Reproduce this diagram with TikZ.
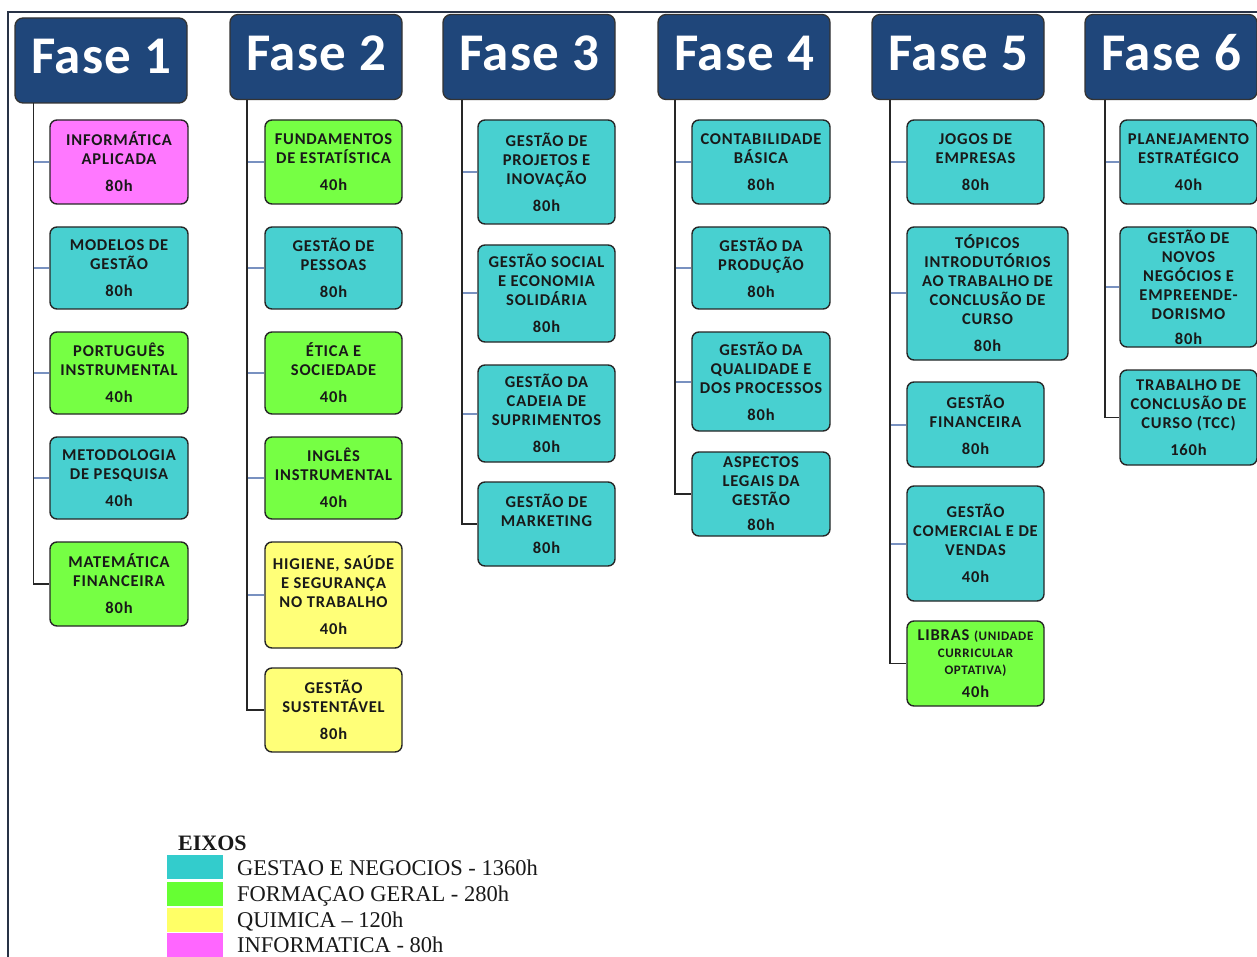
\documentclass[tikz,border=0pt]{standalone}
\usepackage{fontspec}
\setmainfont{Liberation Serif}
\newfontfamily\calfont[LetterSpace=5.0]{Carlito}
\newfontfamily\hdrfamily[LetterSpace=2.0]{Carlito}
\usetikzlibrary{calc}
\definecolor{cyanbox}{RGB}{72,208,208}
\definecolor{greenbox}{RGB}{118,255,68}
\definecolor{yellowbox}{RGB}{255,255,120}
\definecolor{magbox}{RGB}{255,120,255}
\definecolor{hdrblue}{RGB}{31,70,122}
\definecolor{tickblue}{RGB}{120,145,192}
\definecolor{framec}{RGB}{40,50,70}
\definecolor{legcyan}{RGB}{51,204,204}
\definecolor{leggreen}{RGB}{102,255,51}
\definecolor{legyellow}{RGB}{255,255,102}
\definecolor{legmag}{RGB}{255,102,255}
\newcommand{\boxfnt}{\calfont\bfseries\fontsize{16.5}{19}\selectfont}
\newcommand{\hdrfnt}{\hdrfamily\bfseries\fontsize{53}{56}\selectfont}
\newcommand{\tinyfnt}{\calfont\bfseries\fontsize{13}{17}\selectfont}
\tikzset{
  box/.style={draw=black!85, line width=1.4pt, rounded corners=7pt, minimum width=137pt,
    inner sep=0pt, align=center, font=\boxfnt, text=black!90},
  ga/.style={box, fill=cyanbox},
  fg/.style={box, fill=greenbox},
  qu/.style={box, fill=yellowbox},
  inf/.style={box, fill=magbox},
  hdr/.style={draw=black!80, fill=hdrblue, rounded corners=8pt, minimum width=172pt,
    minimum height=85pt, inner sep=0pt, text=white, font=\hdrfnt, line width=1.3pt,
    text height=34pt, text depth=7pt},
  spine/.style={draw=black!85, line width=1.5pt},
  tickline/.style={draw=tickblue, line width=2pt},
  frameline/.style={draw=framec, line width=1.4pt},
  swatch/.style={minimum width=56pt, minimum height=24pt, inner sep=0pt, anchor=north west},
  legtext/.style={anchor=base west, inner sep=0pt, font=\fontsize{22.5}{24}\selectfont, text=black!90}
}
\begin{document}
\begin{tikzpicture}[x=1pt,y=-1pt]
\useasboundingbox (0,0) rectangle (1257,957);
\fill[white] (0,0) rectangle (1257,957);
\draw[frameline] (8,960) -- (8,12) -- (1260,12);

% headers
\node[hdr] (h1) at (101,60.5) {Fase 1};
\node[hdr] (h2) at (316,57) {Fase 2};
\node[hdr] (h3) at (529,57) {Fase 3};
\node[hdr] (h4) at (744,57) {Fase 4};
\node[hdr] (h5) at (958,57) {Fase 5};
\node[hdr] (h6) at (1171,57) {Fase 6};

% spine tops
\coordinate (t1) at (33.5,103);
\coordinate (t2) at (247,100);
\coordinate (t3) at (462,100);
\coordinate (t4) at (675,100);
\coordinate (t5) at (890,100);
\coordinate (t6) at (1105,100);

% Fase 1
\node[inf, minimum width=138pt, minimum height=84pt] (a1) at (119,162) {INFORMÁTICA\\APLICADA\\[8pt]80h};
\node[ga, minimum width=138pt, minimum height=82pt] (a2) at (119,268) {MODELOS DE\\GESTÃO\\[8pt]80h};
\node[fg, minimum width=138pt, minimum height=82pt] (a3) at (119,373) {PORTUGUÊS\\INSTRUMENTAL\\[8pt]40h};
\node[ga, minimum width=138pt, minimum height=82pt] (a4) at (119,478) {METODOLOGIA\\DE PESQUISA\\[8pt]40h};
\node[fg, minimum width=138pt, minimum height=84pt] (a5) at (119,584) {MATEMÁTICA\\FINANCEIRA\\[8pt]80h};

% Fase 2
\node[fg, minimum height=84pt] (b1) at (333.5,162) {FUNDAMENTOS\\DE ESTATÍSTICA\\[8pt]40h};
\node[ga, minimum height=82pt] (b2) at (333.5,268) {GESTÃO DE\\PESSOAS\\[8pt]80h};
\node[fg, minimum height=82pt] (b3) at (333.5,373) {ÉTICA E\\SOCIEDADE\\[8pt]40h};
\node[fg, minimum height=82pt] (b4) at (333.5,478) {INGLÊS\\INSTRUMENTAL\\[8pt]40h};
\node[qu, minimum height=106pt] (b5) at (333.5,595) {HIGIENE, SAÚDE\\E SEGURANÇA\\NO TRABALHO\\[8pt]40h};
\node[qu, minimum height=84pt] (b6) at (333.5,710) {GESTÃO\\SUSTENTÁVEL\\[8pt]80h};

% Fase 3
\node[ga, minimum height=104pt] (c1) at (546.5,172) {GESTÃO DE\\PROJETOS E\\INOVAÇÃO\\[8pt]80h};
\node[ga, minimum height=97pt] (c2) at (546.5,293.5) {GESTÃO SOCIAL\\E ECONOMIA\\SOLIDÁRIA\\[8pt]80h};
\node[ga, minimum height=97pt] (c3) at (546.5,413.5) {GESTÃO DA\\CADEIA DE\\SUPRIMENTOS\\[8pt]80h};
\node[ga, minimum height=84pt] (c4) at (546.5,524) {GESTÃO DE\\MARKETING\\[8pt]80h};

% Fase 4
\node[ga, minimum width=138pt, minimum height=84pt] (d1) at (761,162) {CONTABILIDADE\\BÁSICA\\[8pt]80h};
\node[ga, minimum width=138pt, minimum height=82pt] (d2) at (761,268) {GESTÃO DA\\PRODUÇÃO\\[8pt]80h};
\node[ga, minimum width=138pt, minimum height=99pt] (d3) at (761,381.5) {GESTÃO DA\\QUALIDADE E\\DOS PROCESSOS\\[8pt]80h};
\node[ga, minimum width=138pt, minimum height=84pt] (d4) at (761,494) {ASPECTOS\\LEGAIS DA\\GESTÃO\\[6pt]80h};

% Fase 5
\node[ga, minimum height=84pt] (e1) at (975.5,162) {JOGOS DE\\EMPRESAS\\[8pt]80h};
\node[ga, minimum width=161pt, minimum height=133pt] (e2) at (987.5,293.5) {TÓPICOS\\INTRODUTÓRIOS\\AO TRABALHO DE\\CONCLUSÃO DE\\CURSO\\[8pt]80h};
\node[ga, minimum height=85pt] (e3) at (975.5,424.5) {GESTÃO\\FINANCEIRA\\[8pt]80h};
\node[ga, minimum height=115pt] (e4) at (975.5,543.5) {GESTÃO\\COMERCIAL E DE\\VENDAS\\[8pt]40h};
\node[fg, minimum height=85pt] (e5) at (975.5,663.5) {LIBRAS {\tinyfnt(UNIDADE}\\[-2pt]{\tinyfnt CURRICULAR}\\[-2pt]{\tinyfnt OPTATIVA)}\\[4pt]40h};

% Fase 6
\node[ga, minimum height=84pt] (f1) at (1188.5,162) {PLANEJAMENTO\\ESTRATÉGICO\\[8pt]40h};
\node[ga, minimum height=120pt] (f2) at (1188.5,287) {GESTÃO DE\\NOVOS\\NEGÓCIOS E\\EMPREENDE-\\DORISMO\\[6pt]80h};
\node[ga, minimum height=95pt] (f3) at (1188.5,417.5) {TRABALHO DE\\CONCLUSÃO DE\\CURSO (TCC)\\[8pt]160h};

% ticks
\foreach \n/\t in {a1/t1,a2/t1,a3/t1,a4/t1,b1/t2,b2/t2,b3/t2,b4/t2,b5/t2,c1/t3,c2/t3,c3/t3,d1/t4,d2/t4,d3/t4,e1/t5,e2/t5,e3/t5,e4/t5,f1/t6,f2/t6}
  \draw[tickline] (\n.west) -- (\n.west -| \t);

% spines
\draw[spine] (t1) |- (a5.west);
\draw[spine] (t2) |- (b6.west);
\draw[spine] (t3) |- (c4.west);
\draw[spine] (t4) |- (d4.west);
\draw[spine] (t5) |- (e5.west);
\draw[spine] (t6) |- (f3.west);

% legend
\node[anchor=base west, inner sep=0pt, font=\bfseries\fontsize{22}{24}\selectfont, text=black!90] (lt) at (178,850) {EIXOS};
\node[swatch, fill=legcyan] (s1) at (167,855) {};
\node[swatch, fill=leggreen] (s2) at (167,882) {};
\node[swatch, fill=legyellow] (s3) at (167,907.5) {};
\node[swatch, fill=legmag] (s4) at (167,933) {};
\node[legtext] (l1) at (237,875) {GESTAO E NEGOCIOS - 1360h};
\node[legtext] (l2) at (237,901) {FORMAÇAO GERAL - 280h};
\node[legtext] (l3) at (237,927) {QUIMICA – 120h};
\node[legtext] (l4) at (237,952) {INFORMATICA - 80h};
\end{tikzpicture}
\end{document}
